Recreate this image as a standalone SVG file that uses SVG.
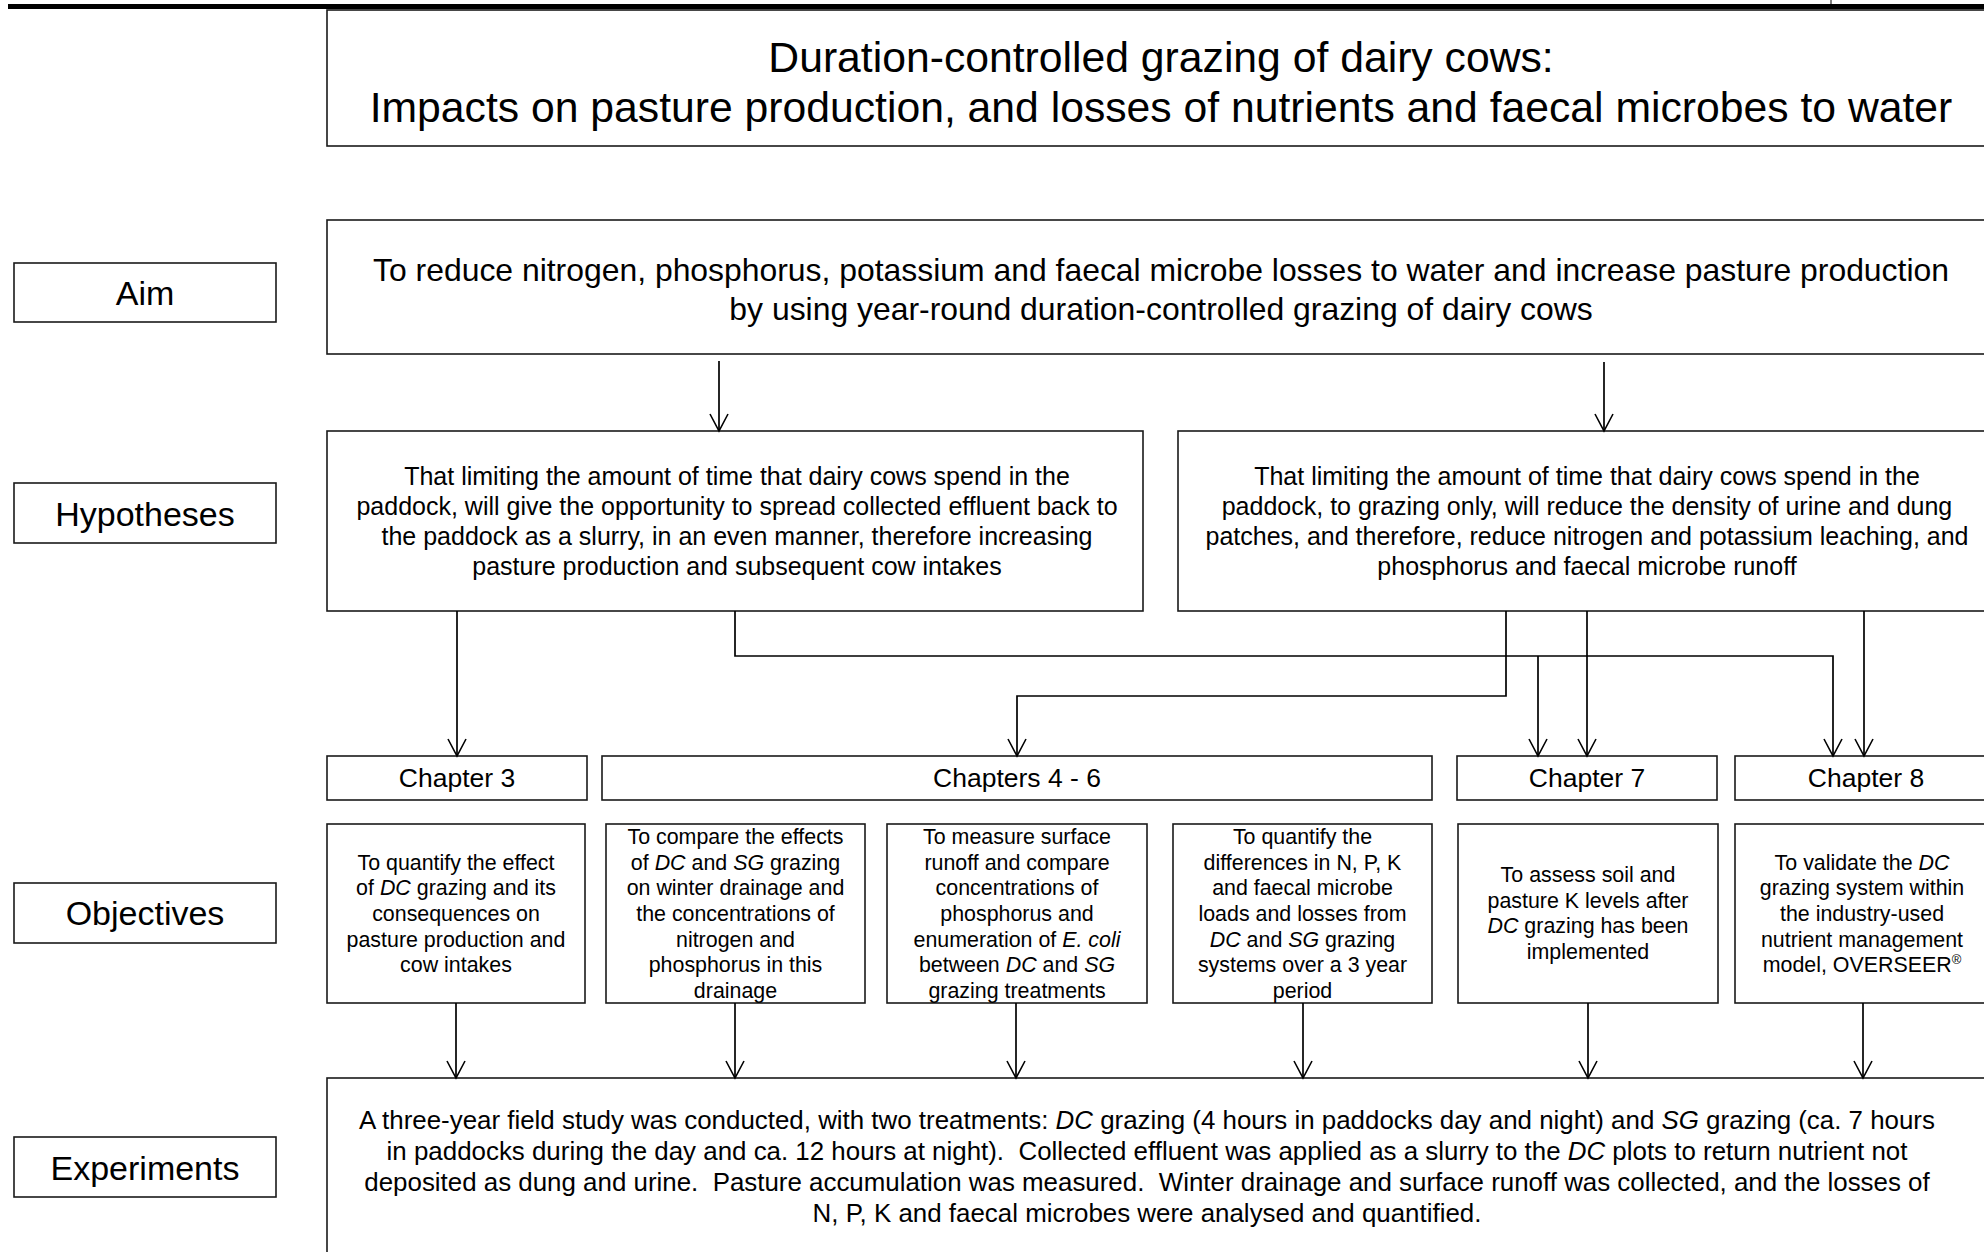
<svg xmlns="http://www.w3.org/2000/svg" width="1984" height="1252" viewBox="0 0 1984 1252">
<defs>
<style>
text{font-family:"Liberation Sans",Arial,sans-serif;fill:#000;text-anchor:middle}
.box{fill:#fff;stroke:#1a1a1a;stroke-width:1.6}
.t42{font-size:42.7px}
.t32{font-size:31.9px}
.t34{font-size:34px}
.t25{font-size:25px}
.t26{font-size:26.5px}
.t21{font-size:21.4px}
.t24{font-size:25.9px;white-space:pre}
.i{font-style:italic}
.con{fill:none;stroke:#000;stroke-width:1.7}
</style>
<marker id="arr" viewBox="-20 -12 22 24" refX="0" refY="0" markerWidth="22" markerHeight="24" markerUnits="userSpaceOnUse" orient="auto">
<path d="M-17,-9 L0,0 L-17,9" fill="none" stroke="#000" stroke-width="1.6"/>
</marker>
</defs>
<rect width="1984" height="1252" fill="#fff"/>
<rect x="8" y="4" width="1976" height="5" fill="#000"/>
<line x1="1831" y1="0" x2="1831" y2="4" stroke="#000" stroke-width="1"/>

<g id="title">
<rect class="box" x="327" y="10" width="1670" height="136"/>
<text class="t42" x="1161" y="72">Duration-controlled grazing of dairy cows:</text>
<text class="t42" x="1161" y="122">Impacts on pasture production, and losses of nutrients and faecal microbes to water</text>
</g>

<g id="label-aim"><rect class="box" x="14" y="263" width="262" height="59"/><text class="t34" x="145" y="305">Aim</text></g>
<g id="label-hypotheses"><rect class="box" x="14" y="483" width="262" height="60"/><text class="t34" x="145" y="526">Hypotheses</text></g>
<g id="label-objectives"><rect class="box" x="14" y="883" width="262" height="60"/><text class="t34" x="145" y="925">Objectives</text></g>
<g id="label-experiments"><rect class="box" x="14" y="1137" width="262" height="60"/><text class="t34" x="145" y="1180">Experiments</text></g>

<g id="aim">
<rect class="box" x="327" y="220" width="1670" height="134"/>
<text class="t32" x="1161" y="281">To reduce nitrogen, phosphorus, potassium and faecal microbe losses to water and increase pasture production</text>
<text class="t32" x="1161" y="320">by using year-round duration-controlled grazing of dairy cows</text>
</g>

<g id="hyp1">
<rect class="box" x="327" y="431" width="816" height="180"/>
<text class="t25" x="737" y="485">That limiting the amount of time that dairy cows spend in the</text>
<text class="t25" x="737" y="515">paddock, will give the opportunity to spread collected effluent back to</text>
<text class="t25" x="737" y="545">the paddock as a slurry, in an even manner, therefore increasing</text>
<text class="t25" x="737" y="575">pasture production and subsequent cow intakes</text>
</g>

<g id="hyp2">
<rect class="box" x="1178" y="431" width="819" height="180"/>
<text class="t25" x="1587" y="485">That limiting the amount of time that dairy cows spend in the</text>
<text class="t25" x="1587" y="515">paddock, to grazing only, will reduce the density of urine and dung</text>
<text class="t25" x="1587" y="545">patches, and therefore, reduce nitrogen and potassium leaching, and</text>
<text class="t25" x="1587" y="575">phosphorus and faecal microbe runoff</text>
</g>

<g id="ch3"><rect class="box" x="327" y="756" width="260" height="44"/><text class="t26" x="457" y="787">Chapter 3</text></g>
<g id="ch4-6"><rect class="box" x="602" y="756" width="830" height="44"/><text class="t26" x="1017" y="787">Chapters 4 - 6</text></g>
<g id="ch7"><rect class="box" x="1457" y="756" width="260" height="44"/><text class="t26" x="1587" y="787">Chapter 7</text></g>
<g id="ch8"><rect class="box" x="1735" y="756" width="262" height="44"/><text class="t26" x="1866" y="787">Chapter 8</text></g>

<g id="obj1">
<rect class="box" x="327" y="824" width="258" height="179"/>
<text class="t21" x="456" y="870">To quantify the effect</text>
<text class="t21" x="456" y="895">of <tspan class="i">DC</tspan> grazing and its</text>
<text class="t21" x="456" y="921">consequences on</text>
<text class="t21" x="456" y="947">pasture production and</text>
<text class="t21" x="456" y="972">cow intakes</text>
</g>
<g id="obj2">
<rect class="box" x="606" y="824" width="259" height="179"/>
<text class="t21" x="735.5" y="844">To compare the effects</text>
<text class="t21" x="735.5" y="870">of <tspan class="i">DC</tspan> and <tspan class="i">SG</tspan> grazing</text>
<text class="t21" x="735.5" y="895">on winter drainage and</text>
<text class="t21" x="735.5" y="921">the concentrations of</text>
<text class="t21" x="735.5" y="947">nitrogen and</text>
<text class="t21" x="735.5" y="972">phosphorus in this</text>
<text class="t21" x="735.5" y="998">drainage</text>
</g>
<g id="obj3">
<rect class="box" x="887" y="824" width="260" height="179"/>
<text class="t21" x="1017" y="844">To measure surface</text>
<text class="t21" x="1017" y="870">runoff and compare</text>
<text class="t21" x="1017" y="895">concentrations of</text>
<text class="t21" x="1017" y="921">phosphorus and</text>
<text class="t21" x="1017" y="947">enumeration of <tspan class="i">E. coli</tspan></text>
<text class="t21" x="1017" y="972">between <tspan class="i">DC</tspan> and <tspan class="i">SG</tspan></text>
<text class="t21" x="1017" y="998">grazing treatments</text>
</g>
<g id="obj4">
<rect class="box" x="1173" y="824" width="259" height="179"/>
<text class="t21" x="1302.5" y="844">To quantify the</text>
<text class="t21" x="1302.5" y="870">differences in N, P, K</text>
<text class="t21" x="1302.5" y="895">and faecal microbe</text>
<text class="t21" x="1302.5" y="921">loads and losses from</text>
<text class="t21" x="1302.5" y="947"><tspan class="i">DC</tspan> and <tspan class="i">SG</tspan> grazing</text>
<text class="t21" x="1302.5" y="972">systems over a 3 year</text>
<text class="t21" x="1302.5" y="998">period</text>
</g>
<g id="obj5">
<rect class="box" x="1458" y="824" width="260" height="179"/>
<text class="t21" x="1588" y="882">To assess soil and</text>
<text class="t21" x="1588" y="908">pasture K levels after</text>
<text class="t21" x="1588" y="933"><tspan class="i">DC</tspan> grazing has been</text>
<text class="t21" x="1588" y="959">implemented</text>
</g>
<g id="obj6">
<rect class="box" x="1735" y="824" width="262" height="179"/>
<text class="t21" x="1862" y="870">To validate the <tspan class="i">DC</tspan></text>
<text class="t21" x="1862" y="895">grazing system within</text>
<text class="t21" x="1862" y="921">the industry-used</text>
<text class="t21" x="1862" y="947">nutrient management</text>
<text class="t21" x="1862" y="972">model, OVERSEER<tspan font-size="13" dy="-8">®</tspan></text>
</g>

<g id="experiments">
<rect class="box" x="327" y="1078" width="1670" height="200"/>
<text class="t24" x="1147" y="1129">A three-year field study was conducted, with two treatments: <tspan class="i">DC</tspan> grazing (4 hours in paddocks day and night) and <tspan class="i">SG</tspan> grazing (ca. 7 hours</text>
<text class="t24" x="1147" y="1160">in paddocks during the day and ca. 12 hours at night).  Collected effluent was applied as a slurry to the <tspan class="i">DC</tspan> plots to return nutrient not</text>
<text class="t24" x="1147" y="1191">deposited as dung and urine.  Pasture accumulation was measured.  Winter drainage and surface runoff was collected, and the losses of</text>
<text class="t24" x="1147" y="1222">N, P, K and faecal microbes were analysed and quantified.</text>
</g>

<g id="connectors">
<path class="con" d="M719,361 V431" marker-end="url(#arr)"/>
<path class="con" d="M1604,362 V431" marker-end="url(#arr)"/>
<path class="con" d="M457,611 V756" marker-end="url(#arr)"/>
<path class="con" d="M735,611 V656 H1833 V756" marker-end="url(#arr)"/>
<path class="con" d="M1538,656 V756" marker-end="url(#arr)"/>
<path class="con" d="M1506,611 V696 H1017 V756" marker-end="url(#arr)"/>
<path class="con" d="M1587,611 V756" marker-end="url(#arr)"/>
<path class="con" d="M1864,611 V756" marker-end="url(#arr)"/>
<path class="con" d="M456,1003 V1078" marker-end="url(#arr)"/>
<path class="con" d="M735,1003 V1078" marker-end="url(#arr)"/>
<path class="con" d="M1016,1003 V1078" marker-end="url(#arr)"/>
<path class="con" d="M1303,1003 V1078" marker-end="url(#arr)"/>
<path class="con" d="M1588,1003 V1078" marker-end="url(#arr)"/>
<path class="con" d="M1863,1003 V1078" marker-end="url(#arr)"/>
</g>
</svg>
